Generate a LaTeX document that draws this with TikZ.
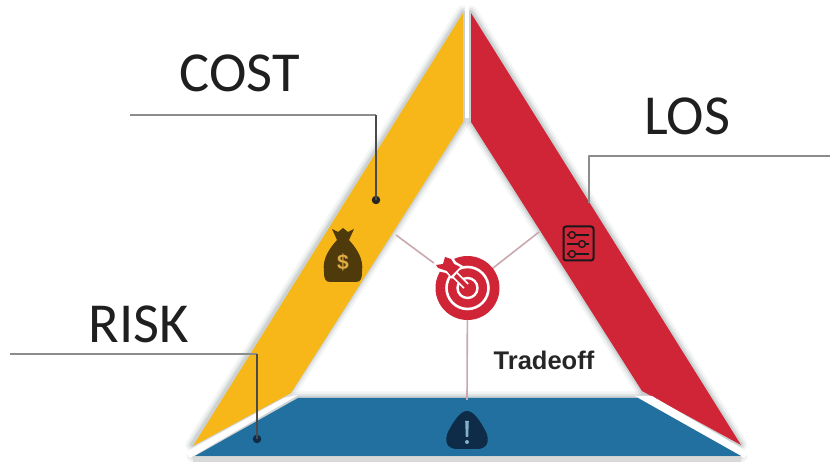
\documentclass[tikz,border=0pt]{standalone}
\usepackage{fontspec}
\setmainfont{Carlito}
\newfontfamily\headfont{Liberation Sans}
\usetikzlibrary{calc}
\definecolor{ygold}{HTML}{F7B718}
\definecolor{rred}{HTML}{CF2536}
\definecolor{bblue}{HTML}{21709F}
\definecolor{navyicon}{HTML}{0E2C47}
\definecolor{bagbrown}{HTML}{4E3A0A}
\definecolor{dollartan}{HTML}{DDAA45}
\definecolor{leader}{HTML}{4A4A4A}
\definecolor{losline}{HTML}{8C8C8C}
\definecolor{pinkline}{HTML}{C9A9AE}
\definecolor{shade}{HTML}{8E979C}
\tikzset{
  x=1pt,y=-1pt,
  biglabel/.style={font=\fontsize{56.5}{56.5}\selectfont,text=black!88,inner sep=0pt,anchor=center},
  leaderline/.style={draw=leader,line width=1.2pt,line join=round},
  spoke/.style={draw=pinkline,line width=1.6pt},
  enddot/.style={circle,fill=#1,draw=none,inner sep=0pt,minimum size=8.5pt},
  softa/.style={draw=shade,draw opacity=.10,line width=13pt,line join=round},
  softb/.style={draw=shade,draw opacity=.16,line width=8pt,line join=round},
  softc/.style={draw=shade,draw opacity=.25,line width=4pt,line join=round},
}
\begin{document}
\begin{tikzpicture}
\useasboundingbox (0,0) rectangle (831,462);
\fill[white] (0,0) rectangle (831,462);
% soft shadows
\foreach \s in {softa,softb,softc}{
  \draw[\s] (463,12) -- (192,445) -- (290,392) -- (463,122) -- cycle;
  \draw[\s] (471,12) -- (741,445) -- (643,392) -- (471,122) -- cycle;
  \draw[\s] (298,398) -- (640,398) -- (741,456) -- (193,456) -- cycle;
}
\fill[white] (465,4) -- (469,4) -- (469,118) -- (465,118) -- cycle;
\fill[black!15] (193,457) rectangle (741,462);
% bands
\fill[ygold] (463,13) -- (463,122) -- (291,393) -- (193,446) -- cycle;
\fill[rred] (471,13) -- (741,445) -- (642,391) -- (471,122) -- cycle;
\fill[white] (284,398) -- (298,395) -- (190,458) -- (186,452) -- cycle;
\fill[white] (635,396) -- (652,396) -- (748,452) -- (744,458) -- cycle;
\fill[bblue] (298,398) -- (638,398) -- (741,456) -- (195,456) -- cycle;
% spokes
\coordinate (leftspoke) at (396,235);
\coordinate (rightspoke) at (539,232);
\coordinate (bottomspoke) at (467,400);
\node[circle,minimum size=62pt,inner sep=0pt] (target) at (467.5,288) {};
\draw[spoke] (target) -- (leftspoke);
\draw[spoke] (target) -- (rightspoke);
\draw[spoke] (target) -- (bottomspoke);
% target icon
\fill[rred] (467.5,288) circle[radius=32];
\draw[white,line width=2.6pt] (467.5,288) circle[radius=21];
\draw[white,line width=2.4pt] (467.5,288) circle[radius=10];
\draw[white,line width=7.5pt] (466,286) -- (450,270);
\draw[rred,line width=4pt] (469,289) -- (446,266);
\fill[white] (444,254) -- (452,256) -- (456,262) -- (463,266) -- (452,279) -- (446,273) -- (437,271) -- (433,264) -- cycle;
\fill[rred] (445,257) -- (451,259) -- (454,264) -- (460,267) -- (451,276) -- (447,271) -- (438,268) -- (436,265) -- (443,264) -- cycle;
% money bag
\fill[bagbrown] (332,229) -- (338,232) -- (343,228) -- (348,232) -- (354,229) -- (349,240)
  .. controls (356,248) and (364,258) .. (362,272)
  .. controls (362,278) and (361,282) .. (356,282)
  -- (330,282)
  .. controls (325,282) and (324,278) .. (324,272)
  .. controls (322,258) and (330,248) .. (337,240) -- cycle;
\node[text=dollartan,font=\fontsize{21}{21}\selectfont\headfont\bfseries,inner sep=0pt] (dollar) at (343,262) {\$};
% sliders icon
\draw[black!90,line width=2pt,rounded corners=2.5pt,fill=rred] (563.5,226.5) rectangle (593.5,260.5);
\foreach \yy/\cx in {235/572,244/582,254/572}{
  \draw[black!90,line width=1.4pt] (567,\yy) -- (589,\yy);
  \fill[rred] (\cx,\yy) circle[radius=3.4];
  \draw[black!90,line width=1.4pt] (\cx,\yy) circle[radius=3.4];
}
% warning icon
\fill[navyicon] (467,411)
  .. controls (473,411) and (479,419) .. (485,430)
  .. controls (491,441) and (487,449) .. (477,449)
  -- (457,449)
  .. controls (447,449) and (443,441) .. (449,430)
  .. controls (455,419) and (461,411) .. (467,411) -- cycle;
\fill[bblue!55!white] (465.2,421) -- (468.8,421) -- (468.2,437) -- (465.8,437) -- cycle;
\fill[bblue!55!white] (467,442) circle[radius=2];
% leaders
\node[enddot=black!85] (costdot) at (376,200) {};
\node[enddot=navyicon] (riskdot) at (257,439) {};
\coordinate (costfree) at (130,115);
\coordinate (costbend) at (376,115);
\coordinate (riskfree) at (10,354);
\coordinate (riskbend) at (257,354);
\coordinate (losfree) at (830,156);
\coordinate (losbend) at (589,156);
\coordinate (losend) at (589,203);
\draw[leaderline,draw=black!45] (costfree) -- (costbend);
\draw[leaderline] (costbend) -- (costdot.center);
\draw[leaderline,draw=black!45] (riskfree) -- (riskbend);
\draw[leaderline] (riskbend) -- (riskdot.center);
\draw[leaderline,draw=losline] (losfree) -- (losbend) -- (losend);
% labels
\node[biglabel] (cost) at (240,73) {COST};
\node[biglabel] (los) at (687,116) {LOS};
\node[biglabel] (risk) at (138.5,324) {RISK};
\node[font=\fontsize{25.5}{25.5}\selectfont\headfont\bfseries,text=black!85,inner sep=0pt] (trade) at (544,360) {Tradeoff};
\end{tikzpicture}
\end{document}
